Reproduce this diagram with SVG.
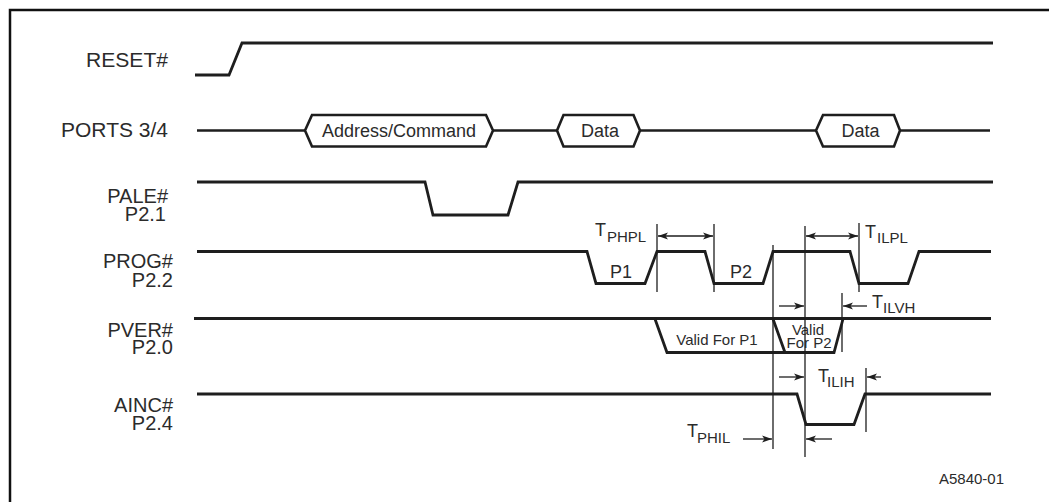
<svg xmlns="http://www.w3.org/2000/svg" width="1049" height="502" viewBox="0 0 1049 502">
<style>
.sig{fill:none;stroke:#1e1e1e;stroke-width:2.8;stroke-linejoin:miter}
.bus{fill:none;stroke:#1e1e1e;stroke-width:2.6}
.vl{fill:none;stroke:#1e1e1e;stroke-width:1.3}
.ar{fill:none;stroke:#1e1e1e;stroke-width:1.3}
.lbl{font-family:"Liberation Sans",Arial,sans-serif;font-size:20px;fill:#2b2b2b;text-anchor:end}
.bt{font-family:"Liberation Sans",Arial,sans-serif;font-size:18px;fill:#2b2b2b;text-anchor:middle}
.sm{font-family:"Liberation Sans",Arial,sans-serif;font-size:15px;fill:#2b2b2b}
.tm{font-family:"Liberation Sans",Arial,sans-serif;font-size:18px;fill:#2b2b2b}
.ts{font-family:"Liberation Sans",Arial,sans-serif;font-size:15px;fill:#2b2b2b}
</style>
<defs>
<marker id="ah" markerUnits="userSpaceOnUse" markerWidth="11" markerHeight="8" refX="10" refY="4" orient="auto-start-reverse">
<path d="M0,0.5 L10,4 L0,7.5 L2.5,4 Z" fill="#1e1e1e"/>
</marker>
</defs>
<rect width="1049" height="502" fill="#ffffff"/>
<path d="M10,502 V10 H1049" fill="none" stroke="#111" stroke-width="2.5"/>

<g id="reset">
<text class="lbl" x="168" y="66.5" textLength="82" lengthAdjust="spacingAndGlyphs">RESET#</text>
<polyline class="sig" points="195,75 229,75 242,43 993,43"/>
</g>

<g id="ports">
<text class="lbl" x="168" y="137" textLength="107" lengthAdjust="spacingAndGlyphs">PORTS 3/4</text>
<path class="bus" d="M197,130.5 H305 M493,130.5 H557 M640,130.5 H816 M900,130.5 H990"/>
<polygon class="bus" points="305,130.5 312,115 486,115 493,130.5 486,146.5 312,146.5"/>
<polygon class="bus" points="557,130.5 563.5,115 633.5,115 640,130.5 633.5,146.5 563.5,146.5"/>
<polygon class="bus" points="816,130.5 823,115 894,115 900,130.5 894,146.5 823,146.5"/>
<text class="bt" x="399" y="136.5">Address/Command</text>
<text class="bt" x="600" y="136.5">Data</text>
<text class="bt" x="860.5" y="136.5">Data</text>
</g>

<g id="pale">
<text class="lbl" x="168" y="203">PALE#</text>
<text class="lbl" x="166" y="221">P2.1</text>
<polyline class="sig" points="197,182 425,182 433,215 508,215 518,182 993,182"/>
</g>

<g id="prog">
<text class="lbl" x="173" y="268">PROG#</text>
<text class="lbl" x="173" y="287">P2.2</text>
<polyline class="sig" points="197,251.5 587,251.5 596,283.5 645,283.5 657,251.5 705,251.5 714,283.5 763,283.5 773,251.5 850,251.5 859,283.5 908,283.5 919,251.5 991,251.5"/>
<text class="bt" x="621" y="278">P1</text>
<text class="bt" x="741" y="278">P2</text>
</g>

<g id="pver">
<text class="lbl" x="173" y="337">PVER#</text>
<text class="lbl" x="173" y="354">P2.0</text>
<polyline class="sig" points="194,318.5 991,318.5"/>
<polyline class="sig" points="655,319 667,352.5 785,352.5"/>
<polyline class="sig" points="773,319 785,352.5 834,352.5 843,319"/>
<text class="sm" x="717" y="345" text-anchor="middle">Valid For P1</text>
<text class="sm" x="808" y="335" text-anchor="middle" font-size="14.5">Valid</text>
<text class="sm" x="809" y="348" text-anchor="middle" font-size="14.5">For P2</text>
</g>

<g id="ainc">
<text class="lbl" x="173" y="412">AINC#</text>
<text class="lbl" x="173" y="430">P2.4</text>
<polyline class="sig" points="197,394 797,394 806,424.5 854,424.5 865,394 991,394"/>
</g>

<g id="connectors">
<line class="vl" x1="657" y1="224" x2="657" y2="292"/>
<line class="vl" x1="714" y1="224" x2="714" y2="292"/>
<line class="vl" x1="773" y1="245" x2="773" y2="449"/>
<line class="vl" x1="805" y1="226" x2="805" y2="457"/>
<line class="vl" x1="859" y1="223" x2="859" y2="292"/>
<line class="vl" x1="842" y1="293" x2="842" y2="352"/>
<line class="vl" x1="866" y1="368" x2="866" y2="432"/>

<line class="ar" x1="658" y1="236" x2="713" y2="236" marker-start="url(#ah)" marker-end="url(#ah)"/>
<line class="ar" x1="806" y1="236" x2="858" y2="236" marker-start="url(#ah)" marker-end="url(#ah)"/>
<line class="ar" x1="779" y1="306" x2="804" y2="306" marker-end="url(#ah)"/>
<line class="ar" x1="867" y1="306" x2="843" y2="306" marker-end="url(#ah)"/>
<line class="ar" x1="779" y1="377" x2="804" y2="377" marker-end="url(#ah)"/>
<line class="ar" x1="881" y1="377" x2="867" y2="377" marker-end="url(#ah)"/>
<line class="ar" x1="743" y1="439" x2="772" y2="439" marker-end="url(#ah)"/>
<line class="ar" x1="832" y1="439" x2="806" y2="439" marker-end="url(#ah)"/>

<text class="tm" x="595" y="236">T</text><text class="ts" x="607" y="242">PHPL</text>
<text class="tm" x="865" y="238">T</text><text class="ts" x="877" y="243">ILPL</text>
<text class="tm" x="872" y="308">T</text><text class="ts" x="883" y="313">ILVH</text>
<text class="tm" x="818" y="382">T</text><text class="ts" x="827" y="387">ILIH</text>
<text class="tm" x="687" y="437">T</text><text class="ts" x="697" y="443">PHIL</text>
</g>

<text class="sm" x="939" y="484" fill="#333">A5840-01</text>
</svg>
